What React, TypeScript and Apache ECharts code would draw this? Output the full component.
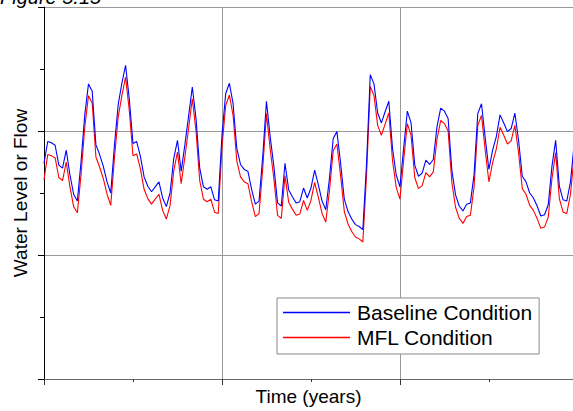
import React, { useEffect, useRef } from "react";
import * as echarts from "echarts";

const titleText = "Figure 5.15";
const xAxisName = "Time (years)";
const yAxisName = "Water Level or Flow";
const seriesNames = ["Baseline Condition", "MFL Condition"];
const monthsPerYear = 12;

const baseline = [
  3.48, 3.83, 3.81, 3.77, 3.45, 3.40, 3.69, 3.29, 2.98, 2.87,
  3.51, 4.26, 4.76, 4.64, 3.78, 3.62, 3.43, 3.18, 3.00, 3.77,
  4.42, 4.77, 5.06, 4.52, 3.80, 3.83, 3.59, 3.26, 3.11, 3.02,
  3.10, 3.18, 2.92, 2.78, 3.00, 3.56, 3.85, 3.35, 3.78, 4.24,
  4.71, 4.20, 3.40, 3.10, 3.06, 3.10, 2.89, 2.87, 3.93, 4.60,
  4.77, 4.44, 3.72, 3.46, 3.38, 3.35, 3.06, 2.82, 2.87, 3.59,
  4.48, 3.91, 3.43, 2.84, 2.79, 3.48, 3.05, 2.94, 2.84, 2.86,
  3.08, 2.92, 3.08, 3.37, 3.13, 2.87, 2.73, 3.24, 3.88, 3.99,
  3.48, 2.90, 2.70, 2.58, 2.49, 2.46, 2.41, 3.48, 4.91, 4.76,
  4.29, 4.13, 4.31, 4.48, 3.72, 3.29, 3.10, 3.72, 4.32, 4.13,
  3.45, 3.27, 3.32, 3.53, 3.46, 3.54, 4.07, 4.37, 4.32, 4.20,
  3.37, 2.97, 2.79, 2.71, 2.82, 2.84, 3.30, 4.28, 4.44, 3.89,
  3.38, 3.69, 3.91, 4.26, 4.13, 3.99, 4.04, 4.29, 3.85, 3.27,
  3.18, 3.00, 2.92, 2.79, 2.63, 2.65, 2.81, 3.43, 3.85, 3.11,
  2.89, 2.87, 3.18, 3.80,
];

const mfl = [
  3.21, 3.62, 3.60, 3.57, 3.25, 3.20, 3.50, 3.10, 2.78, 2.68,
  3.30, 4.06, 4.57, 4.45, 3.58, 3.42, 3.23, 2.98, 2.80, 3.56,
  4.22, 4.57, 4.87, 4.33, 3.60, 3.63, 3.39, 3.06, 2.91, 2.82,
  2.90, 2.98, 2.72, 2.58, 2.80, 3.36, 3.66, 3.15, 3.58, 4.04,
  4.52, 4.00, 3.20, 2.90, 2.86, 2.90, 2.69, 2.67, 3.74, 4.41,
  4.58, 4.25, 3.52, 3.26, 3.18, 3.15, 2.86, 2.62, 2.67, 3.40,
  4.28, 3.71, 3.23, 2.64, 2.59, 3.28, 2.85, 2.74, 2.64, 2.66,
  2.88, 2.72, 2.88, 3.17, 2.93, 2.67, 2.53, 3.04, 3.68, 3.79,
  3.28, 2.70, 2.50, 2.38, 2.29, 2.26, 2.21, 3.30, 4.72, 4.57,
  4.09, 3.93, 4.11, 4.29, 3.52, 3.09, 2.90, 3.52, 4.12, 3.93,
  3.25, 3.07, 3.12, 3.33, 3.26, 3.34, 3.87, 4.17, 4.12, 4.00,
  3.17, 2.77, 2.59, 2.51, 2.62, 2.64, 3.10, 4.09, 4.25, 3.69,
  3.18, 3.49, 3.71, 4.06, 3.93, 3.79, 3.84, 4.09, 3.65, 3.07,
  2.98, 2.80, 2.72, 2.59, 2.43, 2.45, 2.61, 3.23, 3.65, 2.91,
  2.69, 2.67, 2.98, 3.60,
];

const xMin = 0;
const xMax = 11.89;
const yMin = 0;
const yMax = 6;

const FONT = "'Liberation Sans', Arial, sans-serif";

export default function App() {
  const ref = useRef<HTMLDivElement>(null);
  useEffect(() => {
    if (!ref.current) return;
    const chart = echarts.init(ref.current, null, { renderer: "svg" });
    const toPairs = (arr: number[]) => arr.map((v, i) => [i / monthsPerYear, v]);
    chart.setOption({
      animation: false,
      backgroundColor: "#ffffff",
      textStyle: { fontFamily: FONT },
      grid: { left: 44, right: 0, top: 7, bottom: 28, containLabel: false },
      graphic: [
        {
          type: "text",
          x: 0,
          y: 7,
          style: {
            text: titleText,
            font: `italic 20px ${FONT}`,
            fill: "#000",
            textVerticalAlign: "bottom",
          },
        },
      ],
      legend: {
        orient: "vertical",
        left: 277,
        top: 298,
        padding: [4, 7, 6, 6],
        itemGap: 4,
        itemWidth: 67,
        itemHeight: 1.5,
        icon: "rect",
        borderColor: "#888888",
        borderWidth: 1,
        backgroundColor: "#ffffff",
        textStyle: { fontSize: 21, color: "#000", fontFamily: FONT, padding: [0, 0, 0, 2] },
        data: seriesNames,
      },
      xAxis: {
        type: "value",
        min: xMin,
        max: xMax,
        interval: 4,
        name: xAxisName,
        nameLocation: "middle",
        nameGap: 8,
        nameTextStyle: { fontSize: 19, color: "#000", fontFamily: FONT, verticalAlign: "top" },
        axisLine: { show: true, onZero: false, lineStyle: { color: "#666666", width: 1 } },
        axisTick: { show: true, length: 6, lineStyle: { color: "#333" } },
        minorTick: { show: true, splitNumber: 2, length: 3, lineStyle: { color: "#333" } },
        axisLabel: { show: false },
        splitLine: { show: true, lineStyle: { color: "#9a9a9a", width: 1 } },
      },
      yAxis: {
        type: "value",
        min: yMin,
        max: yMax,
        interval: 2,
        name: yAxisName,
        nameLocation: "middle",
        nameGap: 14,
        nameTextStyle: { fontSize: 19, color: "#000", fontFamily: FONT },
        axisLine: { show: true, lineStyle: { color: "#000", width: 1 } },
        axisTick: { show: true, length: 6, lineStyle: { color: "#000" } },
        minorTick: { show: true, splitNumber: 2, length: 4, lineStyle: { color: "#000" } },
        axisLabel: { show: false },
        splitLine: { show: true, lineStyle: { color: "#9a9a9a", width: 1 } },
      },
      series: [
        {
          name: seriesNames[0],
          type: "line",
          data: toPairs(baseline),
          symbol: "none",
          color: "#0000ff",
          lineStyle: { color: "#0000ff", width: 1.1 },
          z: 3,
        },
        {
          name: seriesNames[1],
          type: "line",
          data: toPairs(mfl),
          symbol: "none",
          color: "#ff0000",
          lineStyle: { color: "#ff0000", width: 1.1 },
          z: 2,
        },
      ],
    });
    return () => chart.dispose();
  }, []);
  return <div ref={ref} style={{ width: 573, height: 411, position: "fixed", left: 0, top: 0 }} />;
}
